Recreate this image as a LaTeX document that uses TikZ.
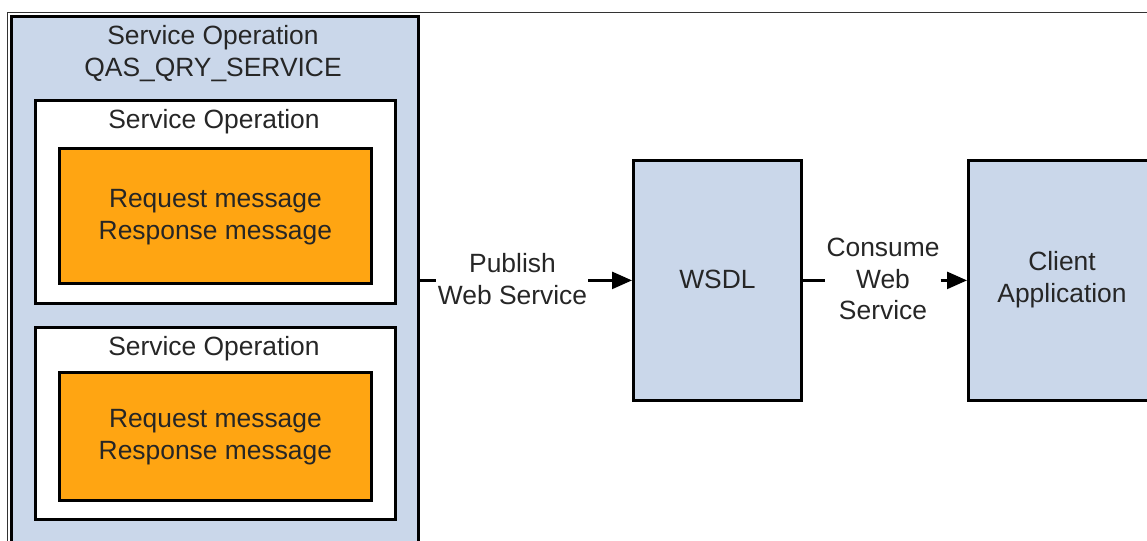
\documentclass[tikz,border=0pt]{standalone}
\usepackage{fontspec}
\setmainfont{Liberation Sans}
\usetikzlibrary{arrows.meta}
\definecolor{paleblue}{HTML}{CAD7EA}
\definecolor{boxorange}{HTML}{FFA512}
\definecolor{txt}{HTML}{262626}
\tikzset{
  box/.style={draw=black, line width=2.8bp, anchor=north west, inner sep=0pt},
  bluebox/.style={box, fill=paleblue},
  whitebox/.style={box, fill=white},
  orangebox/.style={box, fill=boxorange},
  lbl/.style={text=txt, align=center, inner sep=0pt, font=\fontsize{26.4bp}{31.7bp}\selectfont},
  conn/.style={draw=black, line width=2.6bp},
  arr/.style={conn, -{Triangle[length=20bp,width=17bp]}}
}
\begin{document}
\begin{tikzpicture}[x=1bp,y=-1bp]
\useasboundingbox (0,0) rectangle (1147,541);
\clip (0,0) rectangle (1147,541);
% frame lines
\draw[line width=1.2bp, black!80] (7.5,560) -- (7.5,12.5) -- (1150,12.5);
% outer box
\node[bluebox, minimum width=407bp, minimum height=560bp] (outer) at (10,15) {};
\node[lbl] (title) at (213,53.5) {Service Operation\\QAS\_QRY\_SERVICE};
% first service operation
\node[whitebox, minimum width=360bp, minimum height=203bp] (so1) at (34,99) {};
\node[lbl] (so1t) at (214,122) {Service Operation};
\node[orangebox, minimum width=312bp, minimum height=135bp] (msg1) at (58,147) {};
\node[lbl] at ([yshift=-1bp]msg1.center) {Request message\\Response message};
% second service operation
\node[whitebox, minimum width=360bp, minimum height=192bp] (so2) at (34,326) {};
\node[lbl] (so2t) at (214,349) {Service Operation};
\node[orangebox, minimum width=312bp, minimum height=128bp] (msg2) at (58,371) {};
\node[lbl] at ([yshift=-1bp]msg2.center) {Request message\\Response message};
% WSDL and client
\node[bluebox, minimum width=168bp, minimum height=240bp] (wsdl) at (632,159) {};
\node[lbl] at ([yshift=1bp]wsdl.center) {WSDL};
\node[bluebox, minimum width=220bp, minimum height=240bp] (client) at (967,159) {};
\node[lbl] at (1062,280) {Client\\Application};
% connectors
\node[lbl] (pub) at (512.5,279) {Publish\\Web Service};
\draw[conn] (outer.east |- wsdl.west) -- ([xshift=-2bp]pub.west |- wsdl.west);
\draw[arr] ([xshift=1bp]pub.east |- wsdl.west) -- (wsdl.west);
\node[lbl] (cons) at (883,279) {Consume\\Web\\Service};
\draw[conn] (wsdl.east) -- ([xshift=-1bp]cons.west |- wsdl.east);
\draw[arr] ([xshift=1bp]cons.east |- wsdl.east) -- (client.west |- wsdl.east);
\end{tikzpicture}
\end{document}
